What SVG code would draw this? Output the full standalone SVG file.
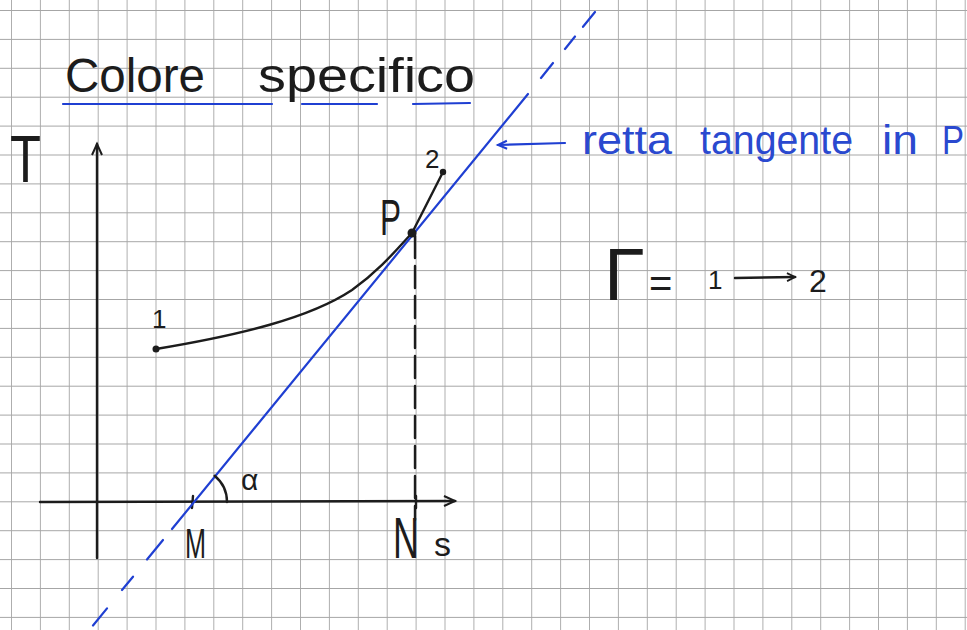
<svg xmlns="http://www.w3.org/2000/svg" width="967" height="630" viewBox="0 0 967 630">
  <style>
    .ink { fill: none; stroke: #1c1c1c; stroke-width: 2.4; stroke-linecap: round; stroke-linejoin: round; }
    .blue { fill: none; stroke: #1f3fd2; stroke-width: 2.2; stroke-linecap: round; }
    .txt { font-family: "Liberation Sans", "DejaVu Sans", sans-serif; fill: #1c1c1c; }
    .btxt { font-family: "Liberation Sans", "DejaVu Sans", sans-serif; fill: #2a49cf; }
    .dot { fill: #1c1c1c; }
  </style>
  <defs>
    <pattern id="grid" patternUnits="userSpaceOnUse" x="11" y="10" width="28.9" height="28.9">
      <path d="M0,0 H28.9 M0,0 V28.9" fill="none" stroke="#a6a6a6" stroke-width="1.8"/>
    </pattern>
    <marker id="openArrow" markerUnits="userSpaceOnUse" markerWidth="16" markerHeight="16" refX="12" refY="6" orient="auto">
      <path d="M1,1 L12,6 L1,11" fill="none" stroke="#1c1c1c" stroke-width="2"/>
    </marker>
    <marker id="blueArrow" markerUnits="userSpaceOnUse" markerWidth="16" markerHeight="16" refX="10" refY="5" orient="auto">
      <path d="M1,1 L10,5 L1,9" fill="none" stroke="#1f3fd2" stroke-width="2"/>
    </marker>
    <marker id="smallArrow" markerUnits="userSpaceOnUse" markerWidth="14" markerHeight="12" refX="9" refY="5" orient="auto">
      <path d="M1,1 L9,5 L1,9" fill="none" stroke="#1c1c1c" stroke-width="1.8"/>
    </marker>
  </defs>

  <rect width="967" height="630" fill="#ffffff"/>
  <rect width="967" height="630" fill="url(#grid)"/>

  <g id="title">
    <text class="txt" y="92" font-size="48" lengthAdjust="spacingAndGlyphs"><tspan x="65" textLength="140" lengthAdjust="spacingAndGlyphs">Colore</tspan><tspan x="258" textLength="217" lengthAdjust="spacingAndGlyphs">specifico</tspan></text>
    <path class="blue" d="M63,104 H272 M302,104 H377 M413,104 L470,103" stroke-width="2.6"/>
  </g>

  <g id="axis-T-label">
    <text class="txt" x="10" y="182" font-size="66" textLength="31" lengthAdjust="spacingAndGlyphs" fill="#333">T</text>
  </g>

  <g id="connectors">
    <!-- axes -->
    <line class="ink" x1="97" y1="558" x2="97" y2="144" marker-end="url(#openArrow)"/>
    <line class="ink" x1="40" y1="502" x2="455" y2="501" marker-end="url(#openArrow)"/>
    <!-- transformation curve 1 -> P -> 2 -->
    <path class="ink" d="M156,349 C240,335 310,318 352,290 C380,270 398,248 412,233"/>
    <line class="ink" x1="412" y1="233" x2="443" y2="172"/>
    <!-- vertical dashed line from P to N -->
    <line class="ink" x1="415" y1="236" x2="415" y2="520" stroke-dasharray="22 8"/>
    <!-- ticks at M and N -->
    <line class="ink" x1="193" y1="496" x2="192" y2="508"/>
    <line class="ink" x1="416" y1="496" x2="416" y2="508"/>
    <!-- tangent line -->
    <line class="blue" x1="172" y1="529" x2="528" y2="94"/>
    <path class="blue" d="M163,540 L147,559.5 M133,576.7 L122,590 M107,608.4 L93,625.5 M541,78 L553,63 M565,49 L575,36.5 M583,26.8 L595,12"/>
    <!-- angle arc -->
    <path class="ink" d="M214.6,475.7 A34,34 0 0 1 227,502" stroke-width="2"/>
    <!-- annotation arrow -->
    <line class="blue" x1="565" y1="143" x2="498" y2="145" marker-end="url(#blueArrow)"/>
    <!-- 1 -> 2 arrow -->
    <line class="ink" x1="735" y1="278" x2="795" y2="277" marker-end="url(#smallArrow)" stroke-width="2"/>
  </g>

  <g id="point-1">
    <circle class="dot" cx="156" cy="349" r="3.5"/>
    <text class="txt" x="152" y="328" font-size="26">1</text>
  </g>
  <g id="point-P">
    <circle class="dot" cx="412" cy="233" r="4.5"/>
    <text class="txt" x="380" y="235" font-size="50" textLength="21" lengthAdjust="spacingAndGlyphs">P</text>
  </g>
  <g id="point-2">
    <circle class="dot" cx="443" cy="172" r="3.2"/>
    <text class="txt" x="425" y="168" font-size="26">2</text>
  </g>
  <g id="label-alpha">
    <text class="txt" x="241" y="490" font-size="30">α</text>
  </g>
  <g id="label-M">
    <text class="txt" x="185" y="558" font-size="42" textLength="21" lengthAdjust="spacingAndGlyphs">M</text>
  </g>
  <g id="label-N">
    <text class="txt" x="393" y="558" font-size="58" textLength="26" lengthAdjust="spacingAndGlyphs">N</text>
  </g>
  <g id="label-s">
    <text class="txt" x="434" y="556" font-size="34">s</text>
  </g>

  <g id="annotation">
    <text class="btxt" y="154" font-size="40"><tspan x="582" textLength="90" lengthAdjust="spacingAndGlyphs">retta</tspan><tspan x="700" textLength="153" lengthAdjust="spacingAndGlyphs">tangente</tspan><tspan x="882" textLength="36" lengthAdjust="spacingAndGlyphs">in</tspan><tspan x="942" textLength="22" lengthAdjust="spacingAndGlyphs">P</tspan></text>
  </g>

  <g id="gamma">
    <text class="txt" x="604" y="300" font-size="74">Γ</text>
    <text class="txt" x="649" y="297" font-size="40">=</text>
    <text class="txt" x="708" y="289" font-size="26">1</text>
    <text class="txt" x="809" y="292" font-size="32">2</text>
  </g>
</svg>
